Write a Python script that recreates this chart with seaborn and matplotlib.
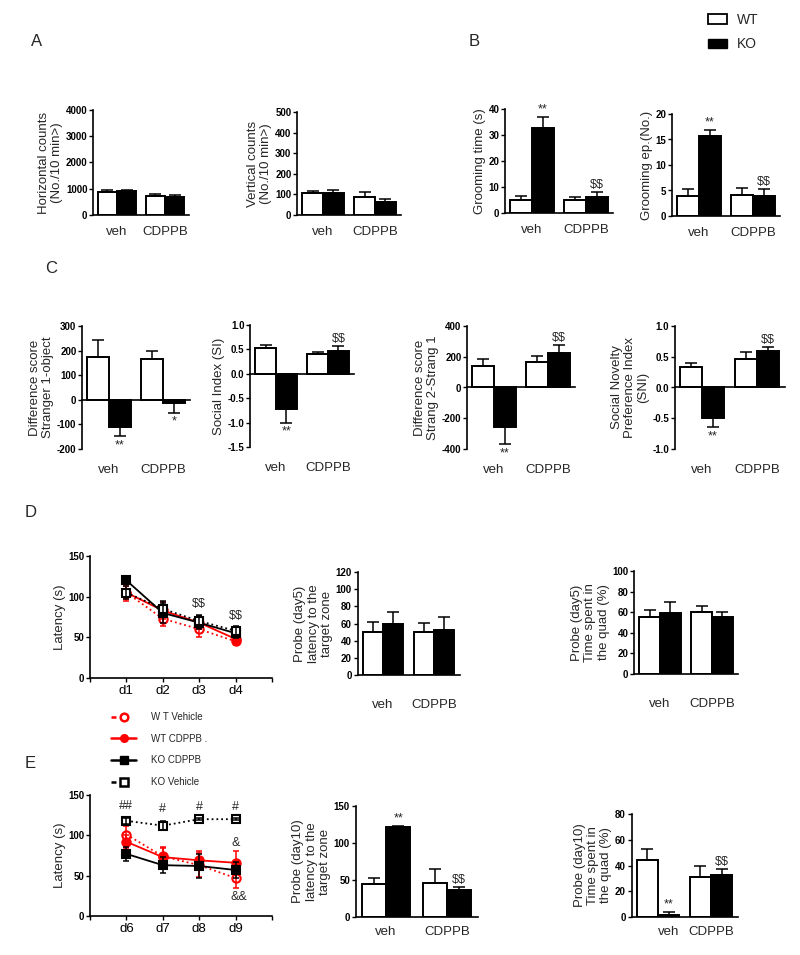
import numpy as np
import pandas as pd
import matplotlib
matplotlib.use("Agg")
import matplotlib.pyplot as plt
from matplotlib.lines import Line2D
from matplotlib.patches import Patch
import seaborn as sns

sns.set_theme(style="white")
plt.rcParams["font.family"] = ["Liberation Sans", "DejaVu Sans"]
plt.rcParams["axes.unicode_minus"] = False

# Groups and genotypes
groups = ["veh", "CDPPB"]
genotypes = ["WT", "KO"]

# Bar values, order: WT veh, KO veh, WT CDPPB, KO CDPPB
horiz_mean = [870, 920, 720, 690]
horiz_sem = [100, 40, 90, 60]
vert_mean = [105, 105, 85, 65]
vert_sem = [12, 15, 25, 12]
groom_time_mean = [5, 32.5, 5, 6]
groom_time_sem = [1.5, 4.5, 1, 2]
groom_ep_mean = [4, 15.7, 4.2, 4]
groom_ep_sem = [1.2, 1.2, 1.3, 1.2]
diff1_mean = [175, -110, 165, -15]
diff1_sem = [70, 38, 35, 38]
si_mean = [0.52, -0.73, 0.40, 0.47]
si_sem = [0.08, 0.27, 0.05, 0.10]
diff2_mean = [140, -255, 165, 225]
diff2_sem = [45, 115, 40, 50]
sni_mean = [0.33, -0.50, 0.47, 0.60]
sni_sem = [0.07, 0.15, 0.10, 0.06]
lat5_mean = [50, 60, 50, 52]
lat5_sem = [12, 13, 11, 16]
quad5_mean = [55, 59, 60, 55]
quad5_sem = [7, 11, 6, 5]
lat10_mean = [45, 121, 46, 37]
lat10_sem = [8, 2, 19, 3]
quad10_mean = [44, 1.5, 31, 33]
quad10_sem = [9, 2.5, 9, 4]

# Learning curves
days_d = ["d1", "d2", "d3", "d4"]
wt_veh_d = [105, 73, 60, 45]
wt_veh_d_sem = [8, 9, 9, 5]
wt_cdppb_d = [105, 83, 68, 48]
wt_cdppb_d_sem = [10, 10, 8, 5]
ko_cdppb_d = [120, 80, 68, 55]
ko_cdppb_d_sem = [5, 12, 8, 6]
ko_veh_d = [105, 85, 70, 58]
ko_veh_d_sem = [8, 10, 8, 6]

days_e = ["d6", "d7", "d8", "d9"]
wt_veh_e = [101, 74, 63, 47]
wt_veh_e_sem = [10, 10, 15, 12]
wt_cdppb_e = [92, 73, 69, 66]
wt_cdppb_e_sem = [8, 12, 12, 14]
ko_cdppb_e = [77, 63, 62, 57]
ko_cdppb_e_sem = [9, 10, 15, 10]
ko_veh_e = [118, 112, 120, 120]
ko_veh_e_sem = [4, 6, 1, 1]

W, H = 800, 955
fig = plt.figure(figsize=(W / 100, H / 100), dpi=100)
PT = 0.72  # points per pixel


def add_px(left, top, right, bottom):
    return fig.add_axes([left / W, 1 - bottom / H, (right - left) / W, (bottom - top) / H])


def style_axis(ax, yticks):
    sns.despine(ax=ax)
    ax.spines["left"].set_linewidth(1.2)
    ax.spines["bottom"].set_linewidth(1.2)
    ax.spines["left"].set_color("black")
    ax.spines["bottom"].set_color("black")
    ax.set_yticks(yticks)
    ax.tick_params(axis="y", left=True, direction="out", length=3, width=1,
                   labelsize=7, pad=1, colors="black")
    for lbl in ax.get_yticklabels():
        lbl.set_fontweight("bold")


def bar_panel(c0, s, top, bottom, mean, sem, ylim, yticks, ylabel,
              marks=None, zero_axis=False, cat_x=(0, 1), cat_off=17):
    ax = add_px(c0 - 0.5 * s, top, c0 + 1.5 * s, bottom)
    df = pd.DataFrame({"group": np.repeat(groups, 2),
                       "genotype": genotypes * 2,
                       "value": mean})
    sns.barplot(data=df, x="group", y="value", hue="genotype",
                order=groups, hue_order=genotypes,
                palette={"WT": "white", "KO": "black"},
                edgecolor="black", linewidth=1.4, width=0.8,
                errorbar=None, legend=False, ax=ax)
    marks = marks or {}
    bar_conts = list(ax.containers)
    for gi, cont in enumerate(bar_conts):
        for ci, bar in enumerate(cont):
            k = ci * 2 + gi
            x = bar.get_x() + bar.get_width() / 2
            v, e = mean[k], sem[k]
            up = v >= 0
            yerr = [[0], [e]] if up else [[e], [0]]
            ax.errorbar([x], [v], yerr=yerr, fmt="none", ecolor="black",
                        elinewidth=1.1, capsize=4.5, capthick=1.1)
            if k in marks:
                ax.annotate(marks[k], (x, v + e if up else v - e),
                            xytext=(0, 1 if up else -2), textcoords="offset points",
                            ha="center", va="bottom" if up else "top", fontsize=9)
    ax.set_xlim(-0.5, 1.5)
    ax.set_ylim(*ylim)
    ax.set_xlabel("")
    ax.set_xticks([])
    style_axis(ax, yticks)
    if zero_axis:
        ax.spines["bottom"].set_position(("data", 0))
    for x, g in zip(cat_x, groups):
        ax.annotate(g, (x, 0), xycoords=("data", "axes fraction"),
                    xytext=(0, -cat_off * PT), textcoords="offset points",
                    ha="center", va="center", fontsize=9.5)
    ax.set_ylabel(ylabel, fontsize=9.5, labelpad=2, linespacing=1.15)
    return ax


def line_panel(top, bottom, days, series, ylabel):
    ax = add_px(90, top, 272, bottom)
    x = np.arange(1, len(days) + 1)
    for vals, errs, color, ls, mk, face in series:
        sns.lineplot(x=x, y=vals, ax=ax, color=color, linestyle=ls, linewidth=1.3,
                     marker=mk, markersize=6, markerfacecolor=face,
                     markeredgecolor=color, markeredgewidth=1.5)
        ax.errorbar(x, vals, yerr=errs, fmt="none", ecolor=color,
                    elinewidth=1.1, capsize=2.5, capthick=1.1)
    ax.set_xlim(0, 5)
    ax.set_ylim(0, 150)
    style_axis(ax, [0, 50, 100, 150])
    ax.set_xticks(range(6))
    ax.set_xticklabels([""] + days + [""], fontsize=9.5)
    ax.tick_params(axis="x", bottom=True, direction="out", length=3, width=1,
                   pad=2, colors="black")
    ax.set_ylabel(ylabel, fontsize=9.5, labelpad=2)
    return ax


# Panel A
bar_panel(117, 48, 110, 215, horiz_mean, horiz_sem, (0, 4000),
          [0, 1000, 2000, 3000, 4000], "Horizontal counts\n(No./10 min>)")
bar_panel(323, 52, 112, 215, vert_mean, vert_sem, (0, 500),
          [0, 100, 200, 300, 400, 500], "Vertical counts\n(No./10 min>)")

# Panel B
bar_panel(532, 54, 109, 213, groom_time_mean, groom_time_sem, (0, 40),
          [0, 10, 20, 30, 40], "Grooming time (s)", marks={1: "**", 3: r"\$\$"})
bar_panel(699, 54, 114, 216, groom_ep_mean, groom_ep_sem, (0, 20),
          [0, 5, 10, 15, 20], "Grooming ep.(No.)", marks={1: "**", 3: r"\$\$"})

# Panel C
bar_panel(109, 54, 326, 449, diff1_mean, diff1_sem, (-200, 300),
          [-200, -100, 0, 100, 200, 300], "Difference score\nStranger 1-object",
          marks={1: "**", 3: "*"}, zero_axis=True, cat_off=21)
bar_panel(276, 52, 325, 447, si_mean, si_sem, (-1.5, 1.0),
          [-1.5, -1.0, -0.5, 0.0, 0.5, 1.0], "Social Index (SI)",
          marks={1: "**", 3: r"\$\$"}, zero_axis=True, cat_off=21)
bar_panel(494, 54, 326, 449, diff2_mean, diff2_sem, (-400, 400),
          [-400, -200, 0, 200, 400], "Difference score\nStrang 2-Strang 1",
          marks={1: "**", 3: r"\$\$"}, zero_axis=True, cat_off=21)
bar_panel(702, 55, 326, 449, sni_mean, sni_sem, (-1.0, 1.0),
          [-1.0, -0.5, 0.0, 0.5, 1.0], "Social Novelty\nPreference Index\n(SNI)",
          marks={1: "**", 3: r"\$\$"}, zero_axis=True, cat_off=21)

# Panel D
red = "#ff0000"
ax_d = line_panel(556, 678, days_d, [
    (wt_veh_d, wt_veh_d_sem, red, ":", "o", "white"),
    (wt_cdppb_d, wt_cdppb_d_sem, red, "-", "o", red),
    (ko_cdppb_d, ko_cdppb_d_sem, "black", "-", "s", "black"),
    (ko_veh_d, ko_veh_d_sem, "black", ":", "s", "white"),
], "Latency (s)")
d_tops = np.max([np.add(wt_veh_d, wt_veh_d_sem), np.add(wt_cdppb_d, wt_cdppb_d_sem),
                 np.add(ko_cdppb_d, ko_cdppb_d_sem), np.add(ko_veh_d, ko_veh_d_sem)], axis=0)
for i in [2, 3]:
    ax_d.annotate(r"\$\$", (i + 1, d_tops[i]), xytext=(0, 3), textcoords="offset points",
                  ha="center", va="bottom", fontsize=9)

bar_panel(383, 51, 572, 675, lat5_mean, lat5_sem, (0, 120),
          [0, 20, 40, 60, 80, 100, 120], "Probe (day5)\nlatency to the\ntarget zone",
          cat_off=30)
bar_panel(660, 52, 571, 674, quad5_mean, quad5_sem, (0, 100),
          [0, 20, 40, 60, 80, 100], "Probe (day5)\nTime spent in\nthe quad (%)",
          cat_off=30)

# Line legend
leg_handles = [
    Line2D([], [], color=red, linestyle=(0, (2, 3)), marker="o", markerfacecolor="white",
           markeredgecolor=red, markersize=5.5, markeredgewidth=1.8, linewidth=1.8),
    Line2D([], [], color=red, linestyle="-", marker="o", markerfacecolor=red,
           markeredgecolor=red, markersize=5.5, linewidth=1.8),
    Line2D([], [], color="black", linestyle="-", marker="s", markerfacecolor="black",
           markeredgecolor="black", markersize=5.5, linewidth=1.8),
    Line2D([], [], color="black", linestyle=(0, (2, 3)), marker="s", markerfacecolor="white",
           markeredgecolor="black", markersize=5.5, markeredgewidth=1.8, linewidth=1.8),
]
leg_labels = ["W T Vehicle", "WT CDPPB .", "KO CDPPB", "KO Vehicle"]
fig.legend(leg_handles, leg_labels, loc="upper left", bbox_to_anchor=(111 / W, 1 - 712 / H),
           frameon=False, fontsize=7, handlelength=2.6, handletextpad=1.5,
           labelspacing=1.2, borderpad=0, borderaxespad=0)

# Panel E
ax_e = line_panel(795, 916, days_e, [
    (wt_veh_e, wt_veh_e_sem, red, ":", "o", "white"),
    (wt_cdppb_e, wt_cdppb_e_sem, red, "-", "o", red),
    (ko_cdppb_e, ko_cdppb_e_sem, "black", "-", "s", "black"),
    (ko_veh_e, ko_veh_e_sem, "black", ":", "s", "white"),
], "Latency (s)")
hash_marks = ["##", "#", "#", "#"]
for i, m in enumerate(hash_marks):
    ax_e.annotate(m, (i + 1, ko_veh_e[i] + ko_veh_e_sem[i]), xytext=(0, 4),
                  textcoords="offset points", ha="center", va="bottom", fontsize=9)
ax_e.annotate("&", (4, wt_cdppb_e[3] + wt_cdppb_e_sem[3]), xytext=(0, 2),
              textcoords="offset points", ha="center", va="bottom", fontsize=9)
ax_e.annotate("&&", (4, wt_veh_e[3] - wt_veh_e_sem[3]), xytext=(2, -2),
              textcoords="offset points", ha="center", va="top", fontsize=9)

bar_panel(386, 61, 806, 917, lat10_mean, lat10_sem, (0, 150),
          [0, 50, 100, 150], "Probe (day10)\nlatency to the\ntarget zone",
          marks={1: "**", 3: r"\$\$"}, cat_off=15)
bar_panel(658, 53, 814, 917, quad10_mean, quad10_sem, (0, 80),
          [0, 20, 40, 60, 80], "Probe (day10)\nTime spent in\nthe quad (%)",
          marks={1: "**", 3: r"\$\$"}, cat_x=(0.2, 1.0), cat_off=15)

# WT / KO legend
fig.legend([Patch(facecolor="white", edgecolor="black", linewidth=1.3),
            Patch(facecolor="black", edgecolor="black")], genotypes,
           loc="upper left", bbox_to_anchor=(708 / W, 1 - 13 / H), frameon=False,
           fontsize=10, handlelength=1.4, handleheight=0.7, handletextpad=0.7,
           labelspacing=0.75, borderpad=0, borderaxespad=0)

# Panel letters
for letter, (x, y) in {"A": (31, 42), "B": (469, 42), "C": (45, 268),
                       "D": (25, 512), "E": (25, 763)}.items():
    fig.text(x / W, 1 - y / H, letter, fontsize=12, ha="left", va="center")

fig.savefig("out.png", dpi=100)
